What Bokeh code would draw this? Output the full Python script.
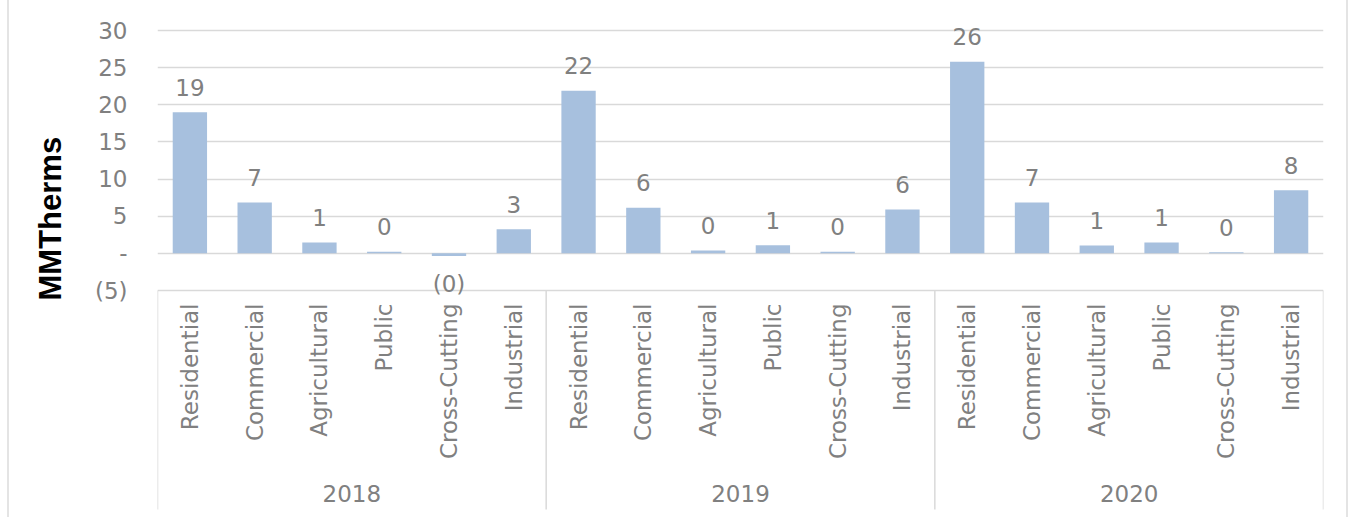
import math
from bokeh.plotting import figure
from bokeh.models import FactorRange, ColumnDataSource, FixedTicker, Range1d, Title
from bokeh.core.properties import value
from bokeh.embed import file_html
from bokeh.resources import INLINE

years = ["2018", "2019", "2020"]
sectors = ["Residential", "Commercial", "Agricultural", "Public", "Cross-Cutting", "Industrial"]
values_2018 = [19.0, 6.85, 1.45, 0.2, -0.35, 3.25]
values_2019 = [21.9, 6.15, 0.4, 1.1, 0.2, 5.9]
values_2020 = [25.8, 6.85, 1.05, 1.45, 0.15, 8.5]
y_ticks = [-5, 0, 5, 10, 15, 20, 25, 30]
y_tick_overrides = {0: "-", -5: "(5)"}

series = {"2018": values_2018, "2019": values_2019, "2020": values_2020}

def fmt(v):
    r = int(round(abs(v)))
    return "(%d)" % r if v < 0 else "%d" % r

factors, vals, labels, offs, subs = [], [], [], [], []
for yr in years:
    for s, v in zip(sectors, series[yr]):
        factors.append((yr, s))
        subs.append(s)
        vals.append(v)
        labels.append(fmt(v))
        offs.append(-25 if v >= 0 else 28)

src = ColumnDataSource(dict(x=factors, top=vals, label=labels, off=offs, sub=subs))

FONT = "DejaVu Sans"
GREY = "#808080"
LINE = "#d9d9d9"

# layout (screen pixels)
W, H = 1341, 517
SHIFT = 9                     # css margin + border on the left
FRAME_LEFT, FRAME_RIGHT = 157, 1323
Y_TOP_PX, Y_BOT_PX = 30, 290  # screen rows of the first and last tick
BOX_END_PX = 509
ppu = (Y_BOT_PX - Y_TOP_PX) / (y_ticks[-1] - y_ticks[0])
y_end = y_ticks[-1] + Y_TOP_PX / ppu
y_start = y_ticks[0] - (H - Y_BOT_PX) / ppu
y_box_end = y_ticks[0] - (BOX_END_PX - Y_BOT_PX) / ppu

p = figure(x_range=FactorRange(*factors, range_padding=0, group_padding=0, subgroup_padding=0, factor_padding=0),
           y_range=Range1d(y_start, y_end),
           width=W, height=H, output_backend="svg", toolbar_location=None,
           min_border_left=FRAME_LEFT - SHIFT, min_border_top=0,
           min_border_right=W + SHIFT - FRAME_RIGHT, min_border_bottom=0,
           styles={"margin-left": "7px", "border-left": "2px solid #e4e4e4",
                   "border-right": "2px solid #e4e4e4"})

p.vbar(x="x", top="top", bottom=0, width=0.53, source=src, fill_color="#a7c0de", line_color=None)
p.text(x="x", y="top", text="label", y_offset="off", source=src,
       text_align="center", text_baseline="middle",
       text_font=value(FONT), text_font_size="23px", text_color=GREY)

# category labels (rotated), below the -5 line
p.text(x="x", y=y_ticks[0], text="sub", source=src, angle=math.pi / 2, y_offset=13,
       text_align="right", text_baseline="middle",
       text_font=value(FONT), text_font_size="23px", text_color=GREY)
# group labels
p.text(x=years, y=[y_ticks[0]] * len(years), text=years, y_offset=203,
       text_align="center", text_baseline="middle",
       text_font=value(FONT), text_font_size="23px", text_color=GREY)
# box lines at group boundaries
n_sec = len(sectors)
bx = [i * n_sec for i in range(len(years) + 1)]
p.segment(x0=bx, x1=bx, y0=[y_ticks[0]] * len(bx), y1=[y_box_end] * len(bx),
          line_color=LINE, line_width=1.5)

p.outline_line_color = None
p.xgrid.grid_line_color = None
p.ygrid.grid_line_color = LINE
p.ygrid.grid_line_width = 1.5
p.xaxis.visible = False

p.yaxis.ticker = FixedTicker(ticks=y_ticks)
p.yaxis.major_label_overrides = y_tick_overrides
p.yaxis.axis_line_color = None
p.yaxis.major_tick_line_color = None
p.yaxis.minor_tick_line_color = None
p.yaxis.major_tick_out = 0
p.yaxis.major_tick_in = 0
p.yaxis.major_label_text_font = FONT
p.yaxis.major_label_text_font_size = "23px"
p.yaxis.major_label_text_color = GREY
p.yaxis.major_label_standoff = 30

title = Title(text="MMTherms", align="left", offset=H - 300, vertical_align="top", standoff=44,
              text_font="Liberation Sans", text_font_style="bold", text_font_size="31px",
              text_color="#000000")
p.add_layout(title, "left")

open("out.html", "w").write(file_html(p, INLINE))
